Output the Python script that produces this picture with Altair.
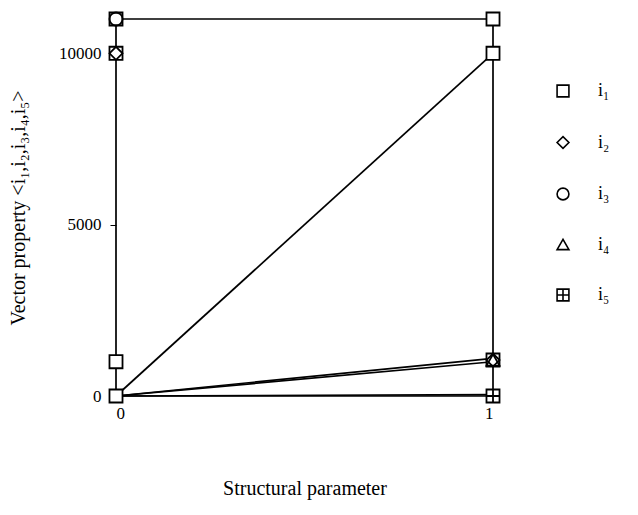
import altair as alt
import pandas as pd

# Line paths (vertices in drawing order)
path_id = ["p1", "p1", "p1", "p1", "p2", "p2", "p3", "p3", "p4", "p4", "p5", "p5", "p6", "p6"]
path_x = [0, 0, 1, 1, 0, 1, 0, 1, 0, 1, 0, 1, 0, 1]
path_y = [0, 11000, 11000, 0, 0, 10000, 0, 1000, 0, 1100, 0, 0, 0, 40]
path_ord = [0, 1, 2, 3, 0, 1, 0, 1, 0, 1, 0, 1, 0, 1]

# Visible markers (drawn in this order)
pt_series = ["i₁", "i₁", "i₁", "i₁", "i₁", "i₁", "i₁", "i₄", "i₂", "i₂", "i₃", "i₅"]
pt_x = [0, 0, 0, 1, 1, 0, 1, 1, 0, 1, 0, 1]
pt_y = [0, 1000, 11000, 11000, 10000, 10000, 1050, 1050, 10000, 1050, 11000, 0]

series_names = ["i₁", "i₂", "i₃", "i₄", "i₅"]
shapes = ["square", "diamond", "circle", "triangle-up",
          "M-1,-1H1V1H-1Z M0,-1V1 M-1,0H1"]

lines_df = pd.DataFrame({"path": path_id, "x": path_x, "y": path_y, "ord": path_ord})
pts_df = pd.DataFrame({"series": pt_series, "bg": pt_series, "x": pt_x, "y": pt_y})

font = "Liberation Serif"

xscale = alt.Scale(domain=[0, 1], nice=False, zero=False)
yscale = alt.Scale(domain=[0, 11000], nice=False)

xaxis = alt.Axis(values=[0, 1], format="d", title="Structural parameter", grid=False,
                 domain=False, tickColor="black", tickSize=5, labelPadding=4,
                 titlePadding=57, labelFont=font, titleFont=font, labelFontSize=17,
                 titleFontSize=20, titleFontWeight="normal", labelColor="black",
                 titleColor="black")
yaxis = alt.Axis(values=[0, 5000, 10000], format="d",
                 title="Vector property <i₁,i₂,i₃,i₄,i₅>",
                 grid=False, domain=False, tickColor="black", tickSize=6, labelPadding=9,
                 titlePadding=30, labelFont=font, titleFont=font, labelFontSize=17,
                 titleFontSize=20, titleFontWeight="normal", labelColor="black",
                 titleColor="black")

lines = alt.Chart(lines_df).mark_line(color="black", strokeWidth=1.7).encode(
    x=alt.X("x:Q", scale=xscale, axis=xaxis),
    y=alt.Y("y:Q", scale=yscale, axis=yaxis),
    detail="path:N",
    order="ord:Q",
)

backs = alt.Chart(pts_df).mark_point(filled=True, color="white", opacity=1, size=170).encode(
    x=alt.X("x:Q", scale=xscale),
    y=alt.Y("y:Q", scale=yscale),
    shape=alt.Shape("bg:N", scale=alt.Scale(domain=series_names, range=shapes), legend=None),
)

points = alt.Chart(pts_df).mark_point(filled=False, color="black", strokeWidth=1.8,
                                       size=170, opacity=1).encode(
    x=alt.X("x:Q", scale=xscale),
    y=alt.Y("y:Q", scale=yscale),
    shape=alt.Shape("series:N", scale=alt.Scale(domain=series_names, range=shapes),
                    legend=alt.Legend(title=None, orient="none", legendX=438, legendY=63,
                                      labelFont=font, labelFontSize=18, labelColor="black",
                                      symbolSize=140, symbolStrokeWidth=1.6,
                                      rowPadding=31.5, labelOffset=26)),
)

chart = (lines + backs + points).resolve_scale(shape="independent").properties(
    width=377, height=377,
    padding={"left": 0, "top": 0, "right": 5, "bottom": 5},
).configure_view(stroke=None)

chart.save("out.html", embed_options={"renderer": "svg", "actions": False})
